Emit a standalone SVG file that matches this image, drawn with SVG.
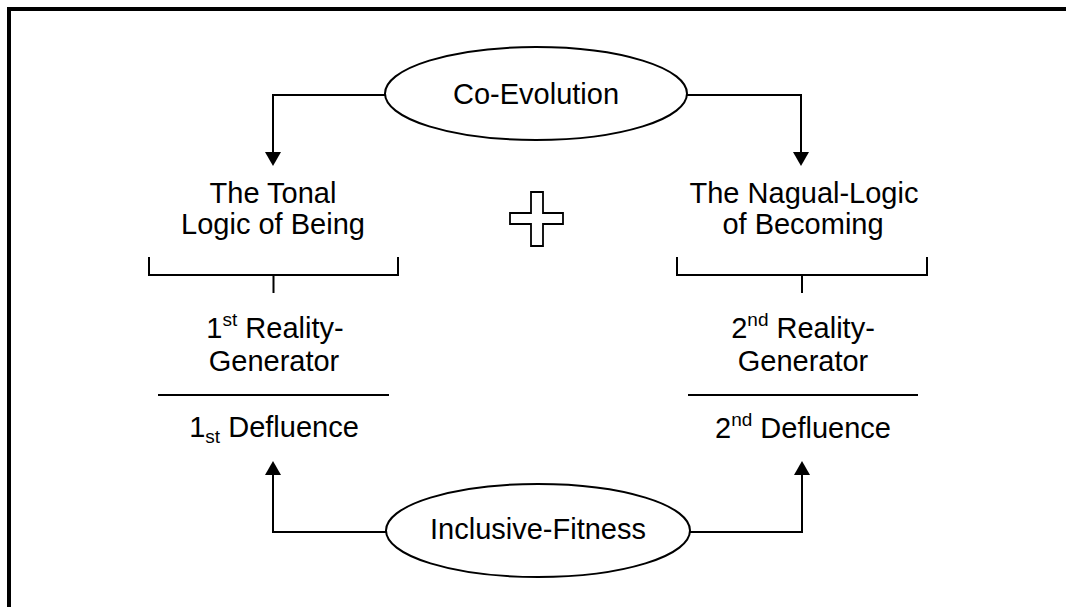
<svg xmlns="http://www.w3.org/2000/svg" width="1066" height="607" viewBox="0 0 1066 607">
<style>
text{font-family:"Liberation Sans",Arial,sans-serif;font-size:29px;fill:#000;text-anchor:middle}
.ln{fill:none;stroke:#000;stroke-width:2}
.node{fill:#fff;stroke:#000;stroke-width:2}
.sup{font-size:19px}
</style>
<defs>
<marker id="arr" viewBox="0 0 14 16" refX="0" refY="8" markerWidth="14" markerHeight="16" markerUnits="userSpaceOnUse" orient="auto">
<path d="M0,0 L14,8 L0,16 Z" fill="#000"/>
</marker>
</defs>
<rect width="1066" height="607" fill="#fff"/>
<path d="M9,607 V9 H1066" fill="none" stroke="#000" stroke-width="4"/>
<g id="connectors">
<path class="ln" d="M385,95 H273 V152" marker-end="url(#arr)"/>
<path class="ln" d="M687,95 H801 V152" marker-end="url(#arr)"/>
<path class="ln" d="M386,532 H273 V475" marker-end="url(#arr)"/>
<path class="ln" d="M690,532 H802 V475" marker-end="url(#arr)"/>
</g>
<g id="co-evolution">
<ellipse class="node" cx="536" cy="93.5" rx="151" ry="46.5"/>
<text x="536" y="104">Co-Evolution</text>
</g>
<g id="inclusive-fitness">
<ellipse class="node" cx="538" cy="530.5" rx="152" ry="46.5"/>
<text x="538" y="539">Inclusive-Fitness</text>
</g>
<g id="plus">
<path d="M531,192 H543 V213 H563 V224 H543 V246 H531 V224 H510 V213 H531 Z" fill="#fff" stroke="#000" stroke-width="1.8"/>
</g>
<g id="tonal">
<text x="273" y="203">The Tonal</text>
<text x="273" y="234">Logic of Being</text>
<path class="ln" d="M149,257 V275 H398 V257 M273.5,275 V293"/>
<text x="275" y="338">1<tspan class="sup" dy="-12">st</tspan><tspan dy="12"> Reality-</tspan></text>
<text x="274" y="371">Generator</text>
<path class="ln" d="M158,395 H389"/>
<text x="274" y="437">1<tspan class="sup" dy="6">st</tspan><tspan dy="-6"> Defluence</tspan></text>
</g>
<g id="nagual">
<text x="804" y="203">The Nagual-Logic</text>
<text x="803" y="234">of Becoming</text>
<path class="ln" d="M677,257 V275 H927 V257 M802,275 V293"/>
<text x="803" y="338">2<tspan class="sup" dy="-12">nd</tspan><tspan dy="12"> Reality-</tspan></text>
<text x="803" y="371">Generator</text>
<path class="ln" d="M688,395 H918"/>
<text x="803" y="438">2<tspan class="sup" dy="-12">nd</tspan><tspan dy="12"> Defluence</tspan></text>
</g>
</svg>
